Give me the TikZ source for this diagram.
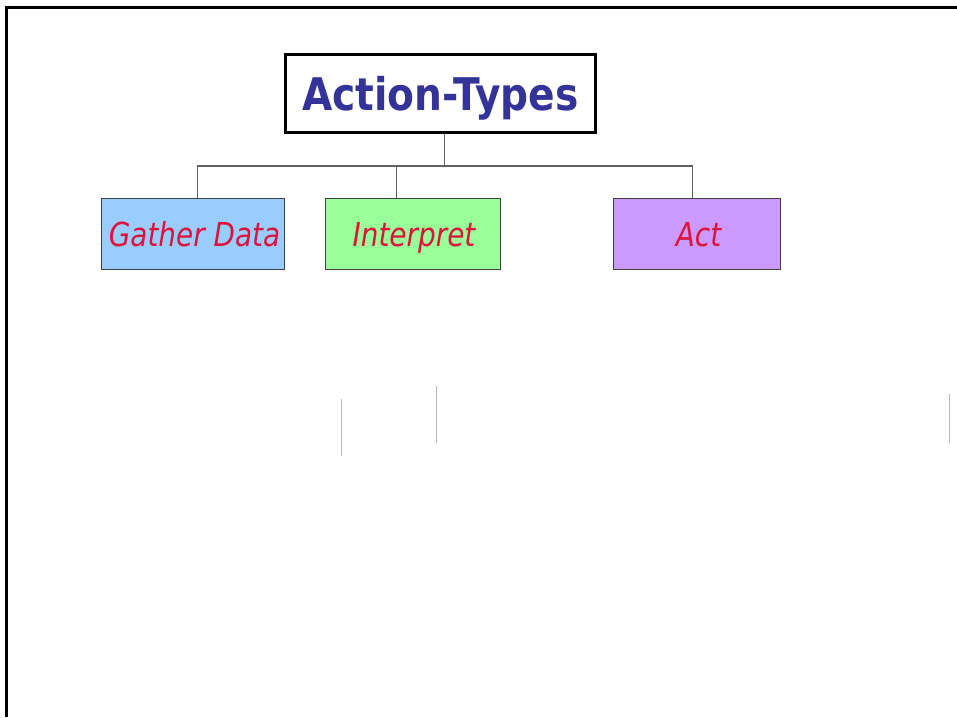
\documentclass[tikz,border=0pt]{standalone}
\usepackage{fontspec}
\newfontfamily\titlefont[FakeStretch=0.87]{DejaVu Sans}
\newfontfamily\boxfont[FakeStretch=0.845]{DejaVu Sans}
\definecolor{titleblue}{RGB}{51,51,153}
\definecolor{labelred}{RGB}{220,20,60}
\definecolor{gatherblue}{RGB}{153,204,255}
\definecolor{interpgreen}{RGB}{153,255,153}
\definecolor{actpurple}{RGB}{204,153,255}
\tikzset{
  headbox/.style={draw=black, line width=3pt, minimum width=310pt, minimum height=78pt,
    inner sep=0pt, text=titleblue, font=\titlefont\bfseries\fontsize{45}{50}\selectfont,
    text height=33pt, text depth=0pt},
  typebox/.style={draw=black!75, line width=1pt, minimum height=71pt, inner sep=0pt,
    text=labelred, font=\boxfont\itshape\fontsize{33}{38}\selectfont,
    text height=24pt, text depth=0pt},
  link/.style={draw=black!62, line width=1.2pt},
  ghost/.style={draw=black!28, line width=1pt}
}
\begin{document}
\begin{tikzpicture}[x=1pt, y=-1pt]
\useasboundingbox (0,0) rectangle (957,717);

% slide frame
\draw [line width=3pt] (6.5,717) -- (6.5,7.5) -- (957,7.5);

\node [headbox] (title) at (440.5,93.5) {Action-Types};

\node [typebox, fill=gatherblue, minimum width=183pt] (gather) at (193,234) {\hspace{3pt}Gather Data};
\node [typebox, fill=interpgreen, minimum width=175pt] (interp) at (413,234) {\hspace{2pt}Interpret};
\node [typebox, fill=actpurple, minimum width=167pt] (act) at (697,234) {\hspace{3pt}Act};

\draw [link] ([xshift=4.2pt]title.south) -- ++(0,32) coordinate (bus);
\draw [link] ([xshift=4.7pt]gather.north) |- (bus) -| ([xshift=-4.3pt]act.north);
\draw [link] ([xshift=-16.3pt]interp.north) -- ([xshift=-16.3pt]interp.north |- bus);

% faint leftover strokes
\draw [ghost] (341.5,399) -- (341.5,455.5);
\draw [ghost] (436.5,386) -- (436.5,443);
\draw [ghost] (949.5,394) -- (949.5,443);
\end{tikzpicture}
\end{document}
